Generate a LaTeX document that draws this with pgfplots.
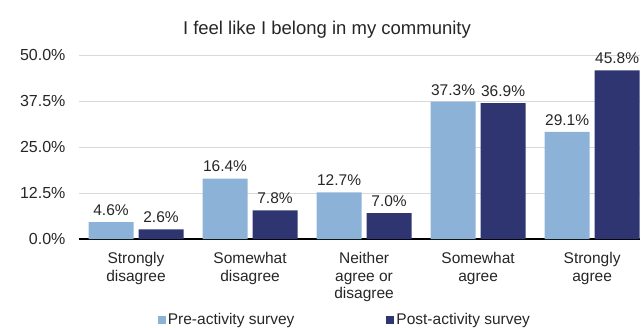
\documentclass[border=0pt]{standalone}
\usepackage{pgfplots}
\pgfplotsset{compat=1.18}
\usepackage{fontspec}
\setmainfont{Liberation Sans}
\definecolor{preC}{RGB}{141,178,216}
\definecolor{postC}{RGB}{46,53,112}
\definecolor{gridC}{RGB}{217,217,217}
\begin{document}
\begin{tikzpicture}[x=1pt,y=1pt]
\useasboundingbox (-79pt,-88pt) rectangle (563pt,239pt);
\begin{axis}[
  at={(0pt,0pt)}, anchor=south west,
  scale only axis, width=561pt, height=184pt,
  xmin=-0.5, xmax=4.42, ymin=0, ymax=50,
  ybar, bar width=45pt,
  axis x line*=bottom, axis y line*=left,
  x axis line style={black, line width=1.2pt},
  y axis line style={draw=none},
  clip=false,
  ytick={0,12.5,25,37.5,50},
  yticklabels={0.0\%,12.5\%,25.0\%,37.5\%,50.0\%},
  yticklabel style={font=\fontsize{16}{18}\selectfont, text=black!85, xshift=-10pt},
  ymajorgrids, grid style={gridC, line width=0.8pt},
  xtick={0,1,2,3,4},
  xticklabels={Strongly\\disagree, Somewhat\\disagree, Neither\\agree or\\disagree, Somewhat\\agree, Strongly\\agree},
  xticklabel style={align=center, font=\fontsize{15.5}{17.5}\selectfont, text=black!85, yshift=-10pt},
  major tick length=0pt,
  nodes near coords={\pgfmathprintnumber[fixed,fixed zerofill,precision=1]{\pgfplotspointmeta}\%},
  nodes near coords style={font=\fontsize{15.5}{17}\selectfont, text=black!85, yshift=3pt},
  /pgf/number format/assume math mode=true,
  title={I feel like I belong in my community},
  title style={at={(axis description cs:0.442,1.104)}, anchor=center, font=\fontsize{18.5}{21}\selectfont, text=black!85},
  legend columns=2,
  legend style={at={(axis description cs:0.474,-0.44)}, anchor=center, draw=none, fill=none,
    font=\fontsize{15.5}{17}\selectfont, text=black!85,
    /tikz/every even column/.append style={column sep=90pt}},
  legend image code/.code={\fill[#1] (0pt,-4pt) rectangle (8pt,4pt);},
]
\addplot[fill=preC, draw=none, bar shift=-25pt] coordinates {(0,4.6) (1,16.4) (2,12.7) (3,37.3) (4,29.1)};
\addlegendentry{Pre-activity survey}
\addplot[fill=postC, draw=none, bar shift=25pt] coordinates {(0,2.6) (1,7.8) (2,7.0) (3,36.9) (4,45.8)};
\addlegendentry{Post-activity survey}
\end{axis}
\end{tikzpicture}
\end{document}
